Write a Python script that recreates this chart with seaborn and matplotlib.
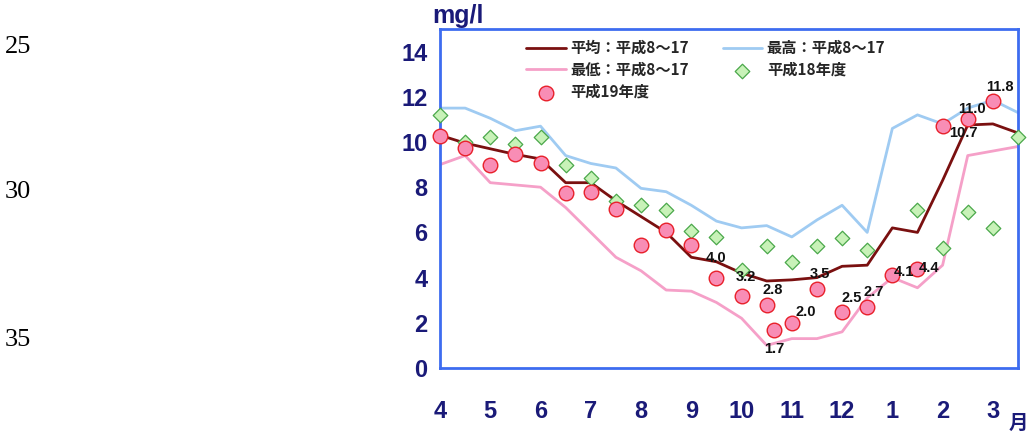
import numpy as np
import seaborn as sns
import matplotlib.pyplot as plt

# half-month steps from April (0) to late March (11.5)
half_months = [i * 0.5 for i in range(24)]
month_ticks = list(range(12))
month_labels = ['4', '5', '6', '7', '8', '9', '10', '11', '12', '1', '2', '3']

avg_h8_17 = [10.3, 9.95, 9.7, 9.45, 9.25, 8.2, 8.2, 7.4, 6.7, 6.0, 4.9, 4.7,
             4.2, 3.85, 3.9, 4.0, 4.5, 4.55, 6.2, 6.0, 8.3, 10.75, 10.8, 10.4]
max_h8_17 = [11.5, 11.5, 11.05, 10.5, 10.7, 9.4, 9.05, 8.85, 7.95, 7.8, 7.2, 6.5,
             6.2, 6.3, 5.8, 6.55, 7.2, 6.0, 10.6, 11.2, 10.8, 11.5, 11.85, 11.3]
min_h8_17 = [9.0, 9.4, 8.2, 8.1, 8.0, 7.1, 6.0, 4.9, 4.3, 3.45, 3.4, 2.9,
             2.2, 1.0, 1.3, 1.3, 1.6, 3.1, 4.0, 3.55, 4.55, 9.4, 9.6, 9.8]
h18 = [11.2, 10.0, 10.2, 9.9, 10.2, 9.0, 8.4, 7.4, 7.2, 7.0, 6.05, 5.8,
       4.35, 5.4, 4.7, 5.4, 5.75, 5.2, np.nan, 7.0, 5.3, 6.9, 6.2, 10.2]

h19_x = [0, 0.5, 1, 1.5, 2, 2.5, 3, 3.5, 4, 4.5, 5, 5.5,
         6, 6.5, 6.65, 7, 7.5, 8, 8.5, 9, 9.5, 10, 10.5, 11]
h19 = [10.25, 9.75, 9.0, 9.45, 9.05, 7.75, 7.8, 7.05, 5.45, 6.1, 5.45, 4.0,
       3.2, 2.8, 1.7, 2.0, 3.5, 2.5, 2.7, 4.1, 4.4, 10.7, 11.0, 11.8]
# labelled points: index into h19 and label offset in pixels
label_idx = [11, 12, 13, 14, 15, 16, 17, 18, 19, 20, 21, 22, 23]
label_off = [(0, 20), (4, 19), (6, 15), (0, -19), (14, 11), (3, 15), (10, 14),
             (6, 15), (12, 3), (12, 1), (21, -7), (4, 10), (7, 14)]

navy = '#1a1a78'
blue = '#3d6cf0'

sns.set_style('white')
plt.rcParams['font.family'] = ['Liberation Sans', 'Noto Sans CJK JP', 'DejaVu Sans']

fig = plt.figure(figsize=(10.31, 4.37), dpi=100)
ax = fig.add_axes([440 / 1031, 69 / 437, 578 / 1031, 339 / 437])

sns.lineplot(x=half_months, y=avg_h8_17, ax=ax, color='#7a1010', linewidth=2.0,
             label='平均：平成8～17')
sns.lineplot(x=half_months, y=max_h8_17, ax=ax, color='#9fcbf2', linewidth=2.0,
             label='最高：平成8～17')
sns.lineplot(x=half_months, y=min_h8_17, ax=ax, color='#f5a0c8', linewidth=2.0,
             label='最低：平成8～17')
sns.scatterplot(x=half_months, y=h18, ax=ax, marker='D', s=55, color='#c8f2b8',
                edgecolor='#4aa84a', linewidth=0.9, label='平成18年度', clip_on=False, zorder=4)
sns.scatterplot(x=h19_x, y=h19, ax=ax, marker='o', s=110, color='#f88db5',
                edgecolor='#e8202a', linewidth=1.0, label='平成19年度', clip_on=False, zorder=5)

for i, (dx, dy) in zip(label_idx, label_off):
    ax.annotate(f'{h19[i]:.1f}', (h19_x[i], h19[i]), xytext=(dx, dy),
                textcoords='offset pixels', ha='center', va='center',
                fontsize=10.5, fontweight='bold', color='#111111', zorder=6)

ax.set_xlim(0, 11.5)
ax.set_ylim(0, 15)
ax.set_xticks(month_ticks)
ax.set_xticklabels(month_labels)
ax.set_xticks([i * 0.5 for i in range(1, 23)], minor=True)
ax.set_yticks(range(0, 15, 2))
ax.tick_params(axis='x', which='major', length=0, pad=23, labelsize=17, labelcolor=navy)
ax.tick_params(axis='x', which='minor', direction='in', length=7, width=1.6, color=blue)
ax.tick_params(axis='y', which='major', direction='in', length=7, width=1.6, color=blue,
               pad=9, labelsize=17, labelcolor=navy)
for t in ax.get_xticklabels() + ax.get_yticklabels():
    t.set_fontweight('bold')
for s in ax.spines.values():
    s.set_color(blue)
    s.set_linewidth(2.0)
ax.set_xlabel('')
ax.set_ylabel('')

h, l = ax.get_legend_handles_labels()
order = [0, 2, 4, 1, 3]
ax.legend([h[i] for i in order], [l[i] for i in order], ncol=2, frameon=False,
          loc='upper left', bbox_to_anchor=(0.125, 1.008),
          handlelength=2.6, handletextpad=0.3, labelspacing=0.38, columnspacing=2.2,
          prop={'family': ['Noto Sans CJK JP'], 'weight': 'bold', 'size': 11})

fig.text(432 / 1031, 1 - 16 / 437, 'mg/l', color=navy, fontsize=18, fontweight='bold',
         ha='left', va='center')
fig.text(1018 / 1031, 1 - 423 / 437, '月', color=navy, fontsize=14, fontweight='bold',
         ha='center', va='center', family=['Noto Sans CJK JP'])

for txt, yy in [('25', 47), ('30', 192), ('35', 340)]:
    fig.text(5 / 1031, 1 - yy / 437, txt, fontsize=19, family=['Liberation Serif'],
             ha='left', va='center', color='black')

fig.savefig('out.png', dpi=100)
